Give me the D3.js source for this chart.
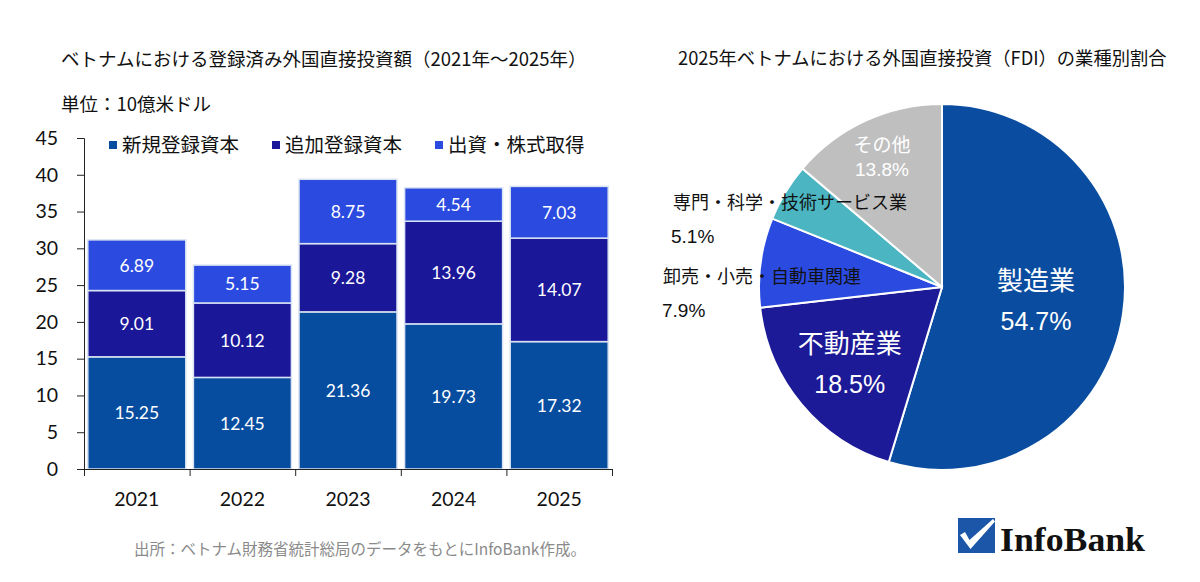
<!DOCTYPE html>
<html>
<head>
<meta charset="utf-8">
<script src="https://cdn.jsdelivr.net/npm/d3@7"></script>
<style>
  body { margin: 0; background: #fff; }
  svg { display: block; }
  text { font-family: "Noto Sans CJK JP", sans-serif; }
</style>
</head>
<body>
<svg id="chart" width="1200" height="582"></svg>
<script>
// --- data ---
var years = ["2021", "2022", "2023", "2024", "2025"];
var newCapital = [15.25, 12.45, 21.36, 19.73, 17.32];   // 新規登録資本
var addCapital = [9.01, 10.12, 9.28, 13.96, 14.07];     // 追加登録資本
var shareCapital = [6.89, 5.15, 8.75, 4.54, 7.03];      // 出資・株式取得
var seriesNames = ["新規登録資本", "追加登録資本", "出資・株式取得"];
var yTicks = [0, 5, 10, 15, 20, 25, 30, 35, 40, 45];

var sectors = ["製造業", "不動産業", "卸売・小売・自動車関連", "専門・科学・技術サービス業", "その他"];
var sectorShares = [54.7, 18.5, 7.9, 5.1, 13.8];

var barColors = ["#064c9f", "#1a1799", "#2b4be0"];
var pieColors = ["#0a4da0", "#1c1a96", "#2b4be0", "#4bb6c2", "#bfbfbf"];

var svg = d3.select("#chart");

// --- left: stacked bars ---
var margin = {top: 138, left: 84},
    width = 528,
    height = 331;

var g = svg.append("g").attr("transform", "translate(" + margin.left + "," + margin.top + ")");

var x = d3.scaleBand().domain(years).range([0, width]).paddingInner(0.072).paddingOuter(0.036);
var xb = d3.scaleLinear().domain([0, years.length]).range([0, width]);
var y = d3.scaleLinear().domain([0, 45]).range([height, 0]);

var keys = ["a", "b", "c"];
var rows = years.map(function(yr, i) {
  return {year: yr, a: newCapital[i], b: addCapital[i], c: shareCapital[i]};
});
var stacked = d3.stack().keys(keys)(rows);

var layer = g.selectAll("g.layer")
  .data(stacked)
  .enter().append("g")
  .attr("class", "layer")
  .attr("fill", function(d, i) { return barColors[i]; });

layer.selectAll("rect")
  .data(function(d) { return d; })
  .enter().append("rect")
  .attr("x", function(d) { return x(d.data.year); })
  .attr("width", x.bandwidth())
  .attr("y", function(d) { return y(d[1]); })
  .attr("height", function(d) { return y(d[0]) - y(d[1]); })
  .attr("stroke", "#d9e3f3")
  .attr("stroke-width", 1.5);

layer.selectAll("text")
  .data(function(d) { return d.map(function(p) { return {p: p, key: d.key}; }); })
  .enter().append("text")
  .attr("x", function(d) { return x(d.p.data.year) + x.bandwidth() / 2; })
  .attr("y", function(d) { return y((d.p[0] + d.p[1]) / 2); })
  .attr("dy", "0.36em")
  .attr("text-anchor", "middle")
  .attr("fill", "#fff")
  .style("font-family", "Lato, sans-serif")
  .style("font-size", "17.5px")
  .text(function(d) { return d3.format(".2f")(d.p.data[d.key]); });

// axes
var yAxis = g.append("g")
  .call(d3.axisLeft(y).tickValues(yTicks).tickSize(7).tickSizeOuter(7).tickPadding(19));
yAxis.selectAll("text")
  .style("font-family", "Lato, sans-serif")
  .style("font-size", "19.5px")
  .attr("fill", "#111");
yAxis.selectAll("path, line").attr("stroke", "#222");

var xTicks = g.append("g")
  .attr("transform", "translate(0," + height + ")")
  .call(d3.axisBottom(xb).tickValues(d3.range(years.length + 1)).tickFormat("").tickSize(7).tickSizeOuter(0));
xTicks.selectAll("path, line").attr("stroke", "#222");

var xLabels = g.append("g")
  .attr("transform", "translate(0," + height + ")")
  .call(d3.axisBottom(x).tickSize(0).tickPadding(23));
xLabels.select(".domain").remove();
xLabels.selectAll("text")
  .style("font-family", "Lato, sans-serif")
  .style("font-size", "19.5px")
  .attr("fill", "#111");

// titles
svg.append("text")
  .attr("x", 61).attr("y", 66)
  .style("font-size", "18.5px").attr("fill", "#111")
  .text("ベトナムにおける登録済み外国直接投資額（2021年～2025年）");

svg.append("text")
  .attr("x", 61).attr("y", 111)
  .style("font-size", "18.5px").attr("fill", "#111")
  .text("単位：10億米ドル");

// legend
var legendX = [109, 272, 435];
var legend = svg.selectAll("g.legend")
  .data(seriesNames)
  .enter().append("g")
  .attr("class", "legend")
  .attr("transform", function(d, i) { return "translate(" + legendX[i] + ",145)"; });
legend.append("rect")
  .attr("x", 0).attr("y", -4).attr("width", 8).attr("height", 8)
  .attr("fill", function(d, i) { return barColors[i]; });
legend.append("text")
  .attr("x", 13).attr("dy", "0.36em")
  .style("font-size", "19.5px").attr("fill", "#111")
  .text(function(d) { return d; });

// source
svg.append("text")
  .attr("x", 134).attr("y", 555)
  .style("font-size", "15.5px").attr("fill", "#8a8a8a")
  .text("出所：ベトナム財務省統計総局のデータをもとにInfoBank作成。");

// --- right: pie ---
var cx = 942, cy = 287, r = 183;
var pg = svg.append("g").attr("transform", "translate(" + cx + "," + cy + ")");

var pie = d3.pie().sort(null).value(function(d) { return d; });
var arcs = pie(sectorShares);
var arc = d3.arc().innerRadius(0).outerRadius(r);

pg.selectAll("path")
  .data(arcs)
  .enter().append("path")
  .attr("d", arc)
  .attr("fill", function(d, i) { return pieColors[i]; })
  .attr("stroke", "#fff")
  .attr("stroke-width", 2);

// labels inside slices
var inside = [
  {i: 0, r: 95, size: 26, gap: 41, small: false},
  {i: 1, r: 120, size: 26, gap: 40, small: false},
  {i: 4, r: 143, size: 19, gap: 24, small: true}
];
inside.forEach(function(o) {
  var c = d3.arc().innerRadius(o.r).outerRadius(o.r).centroid(arcs[o.i]);
  pg.append("text")
    .attr("x", c[0]).attr("y", c[1] - o.gap / 2)
    .attr("dy", "0.36em")
    .attr("text-anchor", "middle").attr("fill", "#fff")
    .style("font-size", o.size + "px")
    .text(sectors[o.i]);
  pg.append("text")
    .attr("x", c[0]).attr("y", c[1] + o.gap / 2)
    .attr("dy", "0.36em")
    .attr("text-anchor", "middle").attr("fill", "#fff")
    .style("font-family", "'Liberation Sans', Arial, sans-serif")
    .style("font-size", (o.small ? 19 : 25) + "px")
    .text(sectorShares[o.i] + "%");
});

// labels outside (left)
var outside = [
  {i: 3, x: 673, y: 209, px: 671, py: 243},
  {i: 2, x: 663, y: 283, px: 662, py: 317}
];
outside.forEach(function(o) {
  svg.append("text")
    .attr("x", o.x).attr("y", o.y)
    .style("font-size", "18px").attr("fill", "#111")
    .text(sectors[o.i]);
  svg.append("text")
    .attr("x", o.px).attr("y", o.py)
    .style("font-family", "'Liberation Sans', Arial, sans-serif")
    .style("font-size", "19px").attr("fill", "#111")
    .text(sectorShares[o.i] + "%");
});

svg.append("text")
  .attr("x", 678).attr("y", 65)
  .style("font-size", "18.3px").attr("fill", "#111")
  .text("2025年ベトナムにおける外国直接投資（FDI）の業種別割合");

// --- logo ---
var logo = svg.append("g").attr("transform", "translate(958,518)");
logo.append("rect").attr("width", 37).attr("height", 35).attr("fill", "#1b56a8");
logo.append("path")
  .attr("d", "M2,17 L7,14 L11.5,22 L35,1 L37,3.5 L12.5,31 Z")
  .attr("fill", "#fff");
svg.append("text")
  .attr("x", 1000).attr("y", 551)
  .attr("textLength", 145).attr("lengthAdjust", "spacingAndGlyphs")
  .style("font-family", "'Liberation Serif', 'DejaVu Serif', serif")
  .style("font-weight", "bold")
  .style("font-size", "33px").attr("fill", "#111")
  .text("InfoBank");
</script>
</body>
</html>
